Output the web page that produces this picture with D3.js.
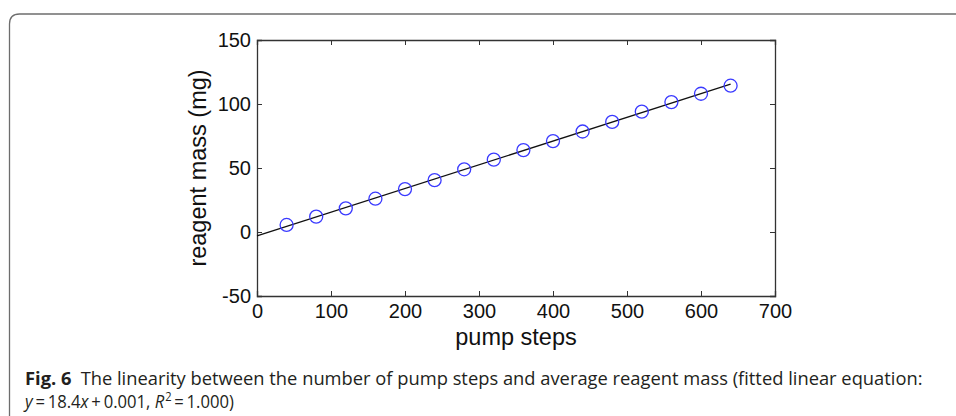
<!DOCTYPE html>
<html>
<head>
<meta charset="utf-8">
<script src="https://cdn.jsdelivr.net/npm/d3@7/dist/d3.min.js"></script>
<style>
  body { margin: 0; background: #fff; }
  svg { display: block; }
</style>
</head>
<body>
<div id="chart"></div>
<script>
    var width = 956,
        height = 416;

    // data
    var pumpSteps = [40, 80, 120, 160, 200, 240, 280, 320, 360, 400, 440, 480, 520, 560, 600, 640];
    var reagentMass = [5.5, 12, 18.5, 26, 33.5, 40.5, 49, 56.5, 64, 71, 78.5, 86, 94, 101.5, 108, 114.3];
    var xTicks = [0, 100, 200, 300, 400, 500, 600, 700];
    var yTicks = [-50, 0, 50, 100, 150];

    // plot box
    var plotLeft = 257, plotRight = 775, plotTop = 40, plotBottom = 296;

    var svg = d3.select("#chart").append("svg")
        .attr("width", width)
        .attr("height", height);

    // rounded frame round the figure
    svg.append("path")
        .attr("d", "M9.5,416 V24 Q9.5,14 19.5,14 H956")
        .attr("fill", "none")
        .attr("stroke", "#6d6d6d")
        .attr("stroke-width", 1.3);

    var x = d3.scaleLinear().domain([0, 700]).range([plotLeft, plotRight]);
    var y = d3.scaleLinear().domain([-50, 150]).range([plotBottom, plotTop]);

    var axisColor = "#333";
    var tickFont = "Liberation Sans, Arial, sans-serif";
    // plain hyphen for negatives, as in the figure
    var plain = function (d) { return String(d); };

    // axes, ticks pointing inwards, mirrored on top and right
    var gx = svg.append("g").attr("transform", "translate(0," + plotBottom + ")")
        .call(d3.axisBottom(x).tickValues(xTicks).tickSize(-5).tickPadding(8).tickFormat(plain));
    var gxt = svg.append("g").attr("transform", "translate(0," + plotTop + ")")
        .call(d3.axisTop(x).tickValues(xTicks).tickSize(-5).tickFormat(""));
    var gy = svg.append("g").attr("transform", "translate(" + plotLeft + ",0)")
        .call(d3.axisLeft(y).tickValues(yTicks).tickSize(-5).tickPadding(6).tickFormat(plain));
    var gyr = svg.append("g").attr("transform", "translate(" + plotRight + ",0)")
        .call(d3.axisRight(y).tickValues(yTicks).tickSize(-5).tickFormat(""));

    [gx, gxt, gy, gyr].forEach(function (g) {
        g.select(".domain").attr("stroke", axisColor).attr("stroke-width", 1.3);
        g.selectAll(".tick line").attr("stroke", axisColor).attr("stroke-width", 1);
        g.selectAll("text")
            .attr("fill", "#111")
            .style("font-family", tickFont)
            .style("font-size", "20px");
    });

    // least squares fit through the points
    var n = pumpSteps.length;
    var mx = d3.mean(pumpSteps), my = d3.mean(reagentMass);
    var sxy = d3.sum(pumpSteps, function (d, i) { return (d - mx) * (reagentMass[i] - my); });
    var sxx = d3.sum(pumpSteps, function (d) { return (d - mx) * (d - mx); });
    var slope = sxy / sxx, intercept = my - slope * mx;

    var fitX = [0, pumpSteps[n - 1]];
    svg.append("path")
        .datum(fitX)
        .attr("d", d3.line()
            .x(function (d) { return x(d); })
            .y(function (d) { return y(intercept + slope * d); }))
        .attr("fill", "none")
        .attr("stroke", "#111")
        .attr("stroke-width", 1.3);

    // 数据点
    svg.append("g").selectAll("circle")
        .data(pumpSteps)
        .enter().append("circle")
        .attr("cx", function (d) { return x(d); })
        .attr("cy", function (d, i) { return y(reagentMass[i]); })
        .attr("r", 6.5)
        .attr("fill", "none")
        .attr("stroke", "#3a3aff")
        .attr("stroke-width", 1.3);

    // axis titles
    svg.append("text")
        .attr("x", (plotLeft + plotRight) / 2)
        .attr("y", 345)
        .attr("text-anchor", "middle")
        .style("font-family", tickFont)
        .style("font-size", "23.5px")
        .attr("fill", "#111")
        .text("pump steps");

    svg.append("text")
        .attr("transform", "translate(206," + ((plotTop + plotBottom) / 2) + ") rotate(-90)")
        .attr("text-anchor", "middle")
        .style("font-family", tickFont)
        .style("font-size", "23.5px")
        .attr("fill", "#111")
        .text("reagent mass (mg)");

    // caption, squeezed sideways to the narrow caption face of the figure
    var capFont = "Open Sans, Noto Sans, sans-serif";
    function captionLine(yPos, targetWidth) {
        var g = svg.append("g");
        var t = g.append("text")
            .attr("x", 0).attr("y", 0)
            .style("font-family", capFont)
            .style("font-size", "18px")
            .attr("fill", "#231f20");
        return { g: g, t: t, y: yPos, w: targetWidth };
    }
    function fit(line) {
        var w = line.t.node().getComputedTextLength();
        line.g.attr("transform", "translate(25," + line.y + ") scale(" + (line.w / w) + ",1)");
    }

    var cap1 = captionLine(385, 898);
    cap1.t.append("tspan").style("font-weight", "bold").text("Fig. 6");
    cap1.t.append("tspan").text("\u2002The linearity between the number of pump steps and average reagent mass (fitted linear equation:");
    fit(cap1);

    var cap2 = captionLine(408, 208);
    cap2.t.append("tspan").style("font-style", "italic").text("y");
    cap2.t.append("tspan").text("\u2009=\u200918.4");
    cap2.t.append("tspan").style("font-style", "italic").text("x");
    cap2.t.append("tspan").text("\u2009+\u20090.001, ");
    cap2.t.append("tspan").style("font-style", "italic").text("R");
    cap2.t.append("tspan").attr("dy", -7).attr("dx", 1).style("font-size", "12px").text("2");
    cap2.t.append("tspan").attr("dy", 7).text("\u2009=\u20091.000)");
    fit(cap2);
</script>
</body>
</html>
